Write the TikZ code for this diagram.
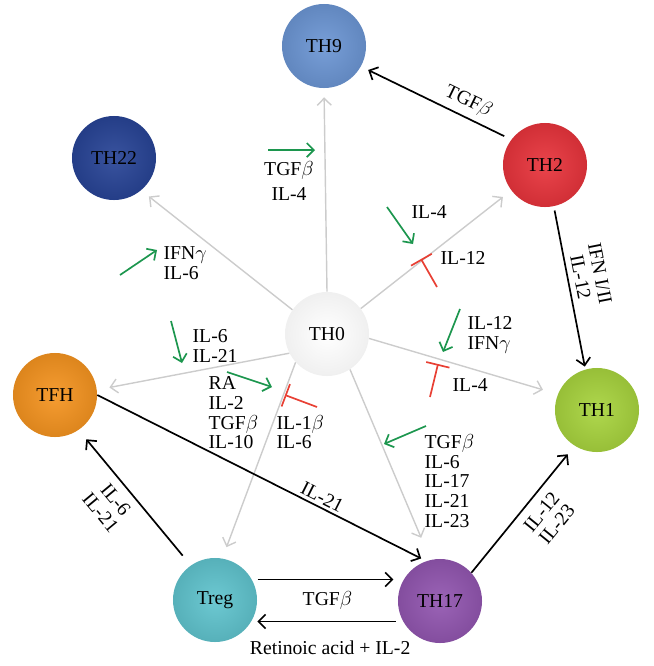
\documentclass[tikz,border=0pt]{standalone}
\usepackage{fontspec}
\setmainfont{Liberation Serif}
\usetikzlibrary{arrows.meta}

\definecolor{cthnine}{RGB}{108,150,212}
\definecolor{cthtt}{RGB}{40,68,150}
\definecolor{cthtwo}{RGB}{232,52,60}
\definecolor{ctfh}{RGB}{245,148,32}
\definecolor{cthone}{RGB}{168,212,62}
\definecolor{ctreg}{RGB}{96,196,206}
\definecolor{cthsvt}{RGB}{146,86,176}
\definecolor{cytgreen}{RGB}{28,150,78}
\definecolor{cytred}{RGB}{232,64,52}

\tikzset{
  cell/.style={circle, minimum size=2.1cm, inner sep=0pt, shading=radial,
    font=\fontsize{14}{14}\selectfont},
  lbl/.style={font=\fontsize{14}{14}\selectfont, inner sep=1pt},
  basearrow/.style={line width=1pt, gray!40, -{Straight Barb[length=5pt,width=10pt]}},
  mainarrow/.style={line width=1.2pt, black, -{Straight Barb[length=5pt,width=10pt]}},
  helparrow/.style={line width=1.2pt, cytgreen, -{Straight Barb[length=5pt,width=10pt]}},
  blockbar/.style={line width=1.2pt, cytred, -{Bar[width=17pt]}},
}

\begin{document}
\begin{tikzpicture}[x=0.025cm, y=-0.025cm]
    \useasboundingbox (0,0) rectangle (653,666);

    % Draw the cells
    \node[cell, inner color=white, outer color=gray!12] (th0) at (327,334) {TH0};
    \node[cell, inner color=cthnine!92!white, outer color=cthnine!90!black] (th9) at (324,46) {TH9};
    \node[cell, inner color=cthtt!92!white, outer color=cthtt!90!black] (th22) at (114,158) {TH22};
    \node[cell, inner color=cthtwo!92!white, outer color=cthtwo!90!black] (th2) at (545,165) {TH2};
    \node[cell, inner color=ctfh!92!white, outer color=ctfh!90!black] (tfh) at (55,395) {TFH};
    \node[cell, inner color=cthone!92!white, outer color=cthone!90!black] (th1) at (597,410) {TH1};
    \node[cell, inner color=ctreg!92!white, outer color=ctreg!90!black] (treg) at (215,600) {Treg};
    \node[cell, inner color=cthsvt!92!white, outer color=cthsvt!90!black] (th17) at (440,601) {TH17};

    % Draw the arrows out of TH0
    \draw[basearrow, shorten >=6.4pt] (th0.90) -- (th9.270);
    \draw[basearrow, shorten >=7pt] (th0.145) -- (th22.310);
    \draw[basearrow, shorten >=7.5pt] (th0.37) -- (th2.217);
    \draw[basearrow, shorten >=9pt] (th0.207) -- (tfh.7);
    \draw[basearrow, shorten >=11pt] (th0.354) -- (th1.158);
    \draw[basearrow, shorten >=8.5pt] (th0.222) -- (treg.80);
    \draw[basearrow, shorten >=17pt] (th0.303) -- (th17.103);

    % Draw the arrows between the cells and their labels
    \draw[mainarrow, shorten <=5.5pt, shorten >=5.7pt] (th2.143) -- node[lbl, sloped, above=3pt, pos=0.33] (tgfb-two) {TGF$\beta$} (th9.331);
    \draw[mainarrow, shorten <=3pt, shorten >=2pt] (th2.282) -- node[lbl, sloped, above=3pt, pos=0.45, align=center] (ifn-two) {IFN I/II\\IL-12} (th1.106);
    \draw[mainarrow, shorten >=4pt] (tfh.0) -- node[lbl, sloped, above=1pt, pos=0.67] (il21-fh) {IL-21} (th17.109);
    \draw[mainarrow, shorten <=9pt, shorten >=8.5pt] (treg.125) -- node[lbl, sloped, below=5pt, pos=0.56, align=center] (il6-reg) {IL-6\\IL-21} (tfh.304);
    \draw[mainarrow, shorten >=7.7pt] (th17.42) -- node[lbl, sloped, below=5pt, pos=0.56, align=center] (il12-svt) {IL-12\\IL-23} (th1.238);
    \draw[mainarrow, shorten <=4pt, shorten >=3pt] (treg.29) -- (treg.29 -| th17.west);
    \draw[mainarrow, shorten <=5pt] (th17.209) -- node[lbl, below=12pt] (ra-svt) {Retinoic acid + IL-2} (th17.209 -| treg.east);
    \path (treg) -- node[lbl] (tgfb-reg) {TGF$\beta$} (th17);

    % Draw the small green arrows (help) and red bars (block)
    \draw[helparrow] (268,150) -- (315,150);
    \node[lbl, align=center] (tgfb-nine) at (289,181) {TGF$\beta$\\[4pt]IL-4};

    \draw[helparrow] (120,275) -- (157,250);
    \node[lbl, align=left, anchor=west] (ifng-tt) at (162,263) {IFN$\gamma$\\IL-6};

    \draw[helparrow] (387,207) -- (413,244);
    \node[lbl, anchor=west] (il4-two) at (410,212) {IL-4};
    \draw[blockbar] (437,287) -- (421,259);
    \node[lbl, anchor=west] (il12-two) at (439,258) {IL-12};

    \draw[helparrow] (171,321) -- (182,363);
    \node[lbl, align=left, anchor=west] (il6-fh) at (191,346) {IL-6\\IL-21};

    \draw[helparrow] (227,372) -- (272,387);
    \node[lbl, align=left, anchor=west] (ra-reg) at (207,413) {RA\\IL-2\\TGF$\beta$\\IL-10};
    \draw[blockbar] (317,407) -- (285,395);
    \node[lbl, align=left, anchor=west] (il1b-reg) at (275,432) {IL-1$\beta$\\IL-6};

    \draw[helparrow] (460,309) -- (443,352);
    \node[lbl, align=left, anchor=west] (il12-one) at (466,335) {IL-12\\IFN$\gamma$};
    \draw[blockbar] (430,397) -- (438,364);
    \node[lbl, anchor=west] (il4-one) at (451,385) {IL-4};

    \draw[helparrow] (426,426) -- (384,444);
    \node[lbl, align=left, anchor=west] (tgfb-svt) at (423,481) {TGF$\beta$\\IL-6\\IL-17\\IL-21\\IL-23};

\end{tikzpicture}
\end{document}
